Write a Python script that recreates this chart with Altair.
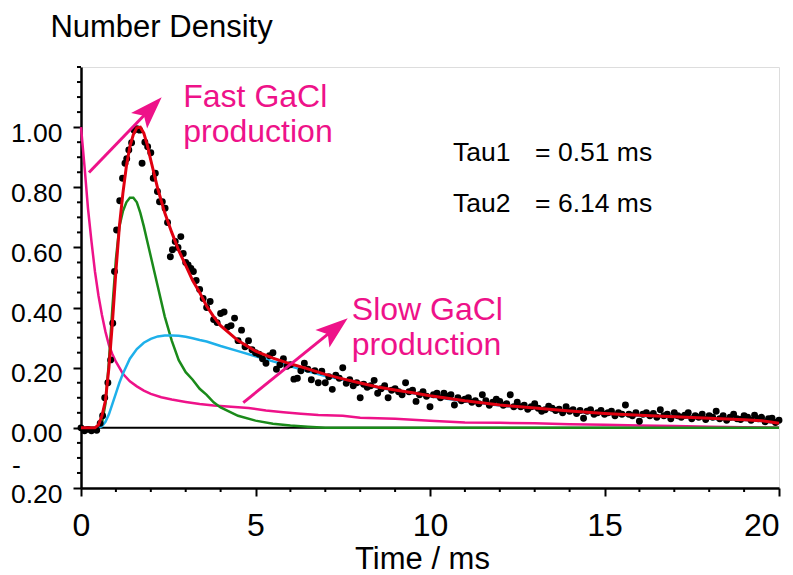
import altair as alt
import pandas as pd

FONT = "Liberation Sans"
PINK = "#ee1289"
RED = "#e00010"
GREEN = "#1a8a1a"
CYAN = "#1eb0ea"

# ---------------- data ----------------
# measured number density (dots)
dot_t = [0.0, 0.1, 0.2, 0.3, 0.45, 0.55, 0.62, 0.68, 0.77, 0.85, 0.91, 0.96, 1.02, 1.11, 1.19,
         1.26, 1.31, 1.37, 1.45, 1.52, 1.60, 1.68, 1.75, 1.83, 1.91, 2.00, 2.07, 2.13, 2.19, 2.25,
         2.33, 2.41, 2.48, 2.56, 2.62, 2.70, 2.78, 2.86, 2.93, 3.00, 3.07, 3.15, 3.22, 3.30,
         3.4, 3.5, 3.6, 3.7, 3.8, 3.9, 4.0, 4.1, 4.2, 4.3, 4.4, 4.5, 4.6, 4.7, 4.8, 4.9,
         5.0, 5.1, 5.2, 5.3, 5.4, 5.5, 5.6, 5.7, 5.8, 5.9, 6.0, 6.1, 6.2, 6.3, 6.4, 6.5, 6.6, 6.7, 6.8, 6.9,
         7.0, 7.1, 7.2, 7.3, 7.4, 7.5, 7.6, 7.7, 7.8, 7.9, 8.0, 8.1, 8.2, 8.3, 8.4, 8.5, 8.6, 8.7, 8.8, 8.9,
         9.0, 9.1, 9.2, 9.3, 9.4, 9.5, 9.6, 9.7, 9.8, 9.9, 10.0, 10.1, 10.2, 10.3, 10.4, 10.5, 10.6, 10.7, 10.8, 10.9,
         11.0, 11.1, 11.2, 11.3, 11.4, 11.5, 11.6, 11.7, 11.8, 11.9, 12.0, 12.1, 12.2, 12.3, 12.4, 12.5, 12.6, 12.7, 12.8, 12.9,
         13.0, 13.1, 13.2, 13.3, 13.4, 13.5, 13.6, 13.7, 13.8, 13.9, 14.0, 14.1, 14.2, 14.3, 14.4, 14.5, 14.6, 14.7, 14.8, 14.9,
         15.0, 15.1, 15.2, 15.3, 15.4, 15.5, 15.6, 15.7, 15.8, 15.9, 16.0, 16.1, 16.2, 16.3, 16.4, 16.5, 16.6, 16.7, 16.8, 16.9,
         17.0, 17.1, 17.2, 17.3, 17.4, 17.5, 17.6, 17.7, 17.8, 17.9, 18.0, 18.1, 18.2, 18.3, 18.4, 18.5, 18.6, 18.7, 18.8, 18.9,
         19.0, 19.1, 19.2, 19.3, 19.4, 19.5, 19.6, 19.7, 19.8, 19.9, 20.0]
dot_y = [0.0, -0.01, -0.005, -0.01, -0.008, 0.015, 0.04, 0.10, 0.15, 0.226, 0.348, 0.52, 0.658, 0.755, 0.83,
         0.88, 0.895, 0.924, 0.948, 0.99, 0.995, 0.99, 0.88, 0.95, 0.935, 0.915, 0.83, 0.847, 0.786, 0.752,
         0.752, 0.73, 0.683, 0.569, 0.592, 0.62, 0.60, 0.636, 0.58, 0.55, 0.542, 0.53, 0.52, 0.49,
         0.46, 0.43, 0.40, 0.42, 0.36, 0.35, 0.38, 0.385, 0.335, 0.34, 0.365, 0.29, 0.325, 0.27, 0.29, 0.26,
         0.25, 0.245, 0.23, 0.215, 0.24, 0.25, 0.195, 0.21, 0.23, 0.205, 0.21, 0.162, 0.165, 0.19, 0.215, 0.195, 0.16, 0.19, 0.15, 0.188,
         0.15, 0.17, 0.128, 0.175, 0.165, 0.20, 0.148, 0.16, 0.14, 0.15, 0.10, 0.145, 0.135, 0.14, 0.158, 0.115, 0.13, 0.14, 0.10, 0.125,
         0.13, 0.12, 0.11, 0.15, 0.12, 0.125, 0.088, 0.11, 0.12, 0.105, 0.07, 0.11, 0.115, 0.10, 0.115, 0.105, 0.11, 0.076, 0.10, 0.09,
         0.095, 0.10, 0.085, 0.09, 0.08, 0.11, 0.09, 0.075, 0.085, 0.095, 0.088, 0.075, 0.08, 0.11, 0.07, 0.085, 0.07, 0.075, 0.062, 0.07,
         0.08, 0.065, 0.055, 0.06, 0.072, 0.065, 0.058, 0.062, 0.05, 0.07, 0.055, 0.06, 0.048, 0.058, 0.032, 0.055, 0.06, 0.045, 0.05, 0.058,
         0.045, 0.05, 0.055, 0.04, 0.05, 0.045, 0.076, 0.045, 0.04, 0.05, 0.022, 0.045, 0.05, 0.04, 0.048, 0.035, 0.06, 0.04, 0.045, 0.03,
         0.05, 0.04, 0.035, 0.042, 0.05, 0.03, 0.04, 0.035, 0.045, 0.028, 0.04, 0.035, 0.055, 0.03, 0.04, 0.025, 0.035, 0.045, 0.03, 0.028,
         0.04, 0.035, 0.025, 0.042, 0.03, 0.035, 0.02, 0.03, 0.032, 0.018, 0.025]

# total fit (red)
fit_t = [0, 0.4, 0.5, 0.6, 0.7, 0.8, 0.9, 1.0, 1.1, 1.2, 1.3, 1.4, 1.5, 1.6, 1.7, 1.8, 1.9, 2.0, 2.2, 2.4,
         2.6, 2.8, 3.0, 3.2, 3.4, 3.6, 3.8, 4.0, 4.5, 5.0, 5.5, 6.0, 6.5, 7.0, 7.5, 8.0, 8.5, 9.0, 9.5, 10.0,
         11.0, 12.0, 13.0, 14.0, 15.0, 16.0, 17.0, 18.0, 19.0, 19.5, 20.0]
fit_y = [0, 0, 0.01, 0.04, 0.09, 0.20, 0.35, 0.52, 0.67, 0.78, 0.87, 0.935, 0.975, 0.998, 1.0, 0.98, 0.94, 0.89, 0.795, 0.715,
         0.65, 0.59, 0.54, 0.49, 0.45, 0.405, 0.37, 0.34, 0.29, 0.255, 0.232, 0.213, 0.196, 0.178, 0.163, 0.149, 0.136, 0.126, 0.117, 0.107,
         0.09, 0.076, 0.066, 0.056, 0.048, 0.042, 0.037, 0.032, 0.027, 0.024, 0.015]

# fast component (green)
fast_t = [0, 0.5, 0.6, 0.7, 0.8, 0.9, 1.0, 1.1, 1.2, 1.3, 1.4, 1.5, 1.6, 1.7, 1.8, 1.9, 2.0, 2.2, 2.4, 2.6,
          2.8, 3.0, 3.2, 3.4, 3.6, 3.8, 4.0, 4.5, 5.0, 5.5, 6.0, 6.5, 7.0, 20.0]
fast_y = [0, 0, 0.015, 0.08, 0.22, 0.40, 0.56, 0.67, 0.72, 0.75, 0.765, 0.765, 0.75, 0.715, 0.67, 0.62, 0.57, 0.47, 0.37, 0.29,
          0.225, 0.185, 0.16, 0.13, 0.11, 0.085, 0.068, 0.04, 0.024, 0.014, 0.008, 0.004, 0.0, 0.0]

# slow component (cyan)
slow_t = [0, 0.5, 0.6, 0.7, 0.8, 0.9, 1.0, 1.1, 1.2, 1.4, 1.6, 1.8, 2.0, 2.2, 2.4, 2.6, 2.8, 3.0, 3.2, 3.4,
          3.6, 4.0, 4.5, 5.0, 5.5, 6.0, 6.5, 7.0, 7.5, 8.0, 8.5, 9.0, 9.5, 10.0, 11.0, 12.0, 13.0, 14.0, 15.0, 16.0,
          17.0, 18.0, 19.0, 19.5, 20.0]
slow_y = [0, 0, 0.005, 0.02, 0.045, 0.08, 0.115, 0.15, 0.18, 0.23, 0.262, 0.283, 0.296, 0.304, 0.307, 0.307, 0.306, 0.303, 0.298, 0.292,
          0.287, 0.272, 0.255, 0.238, 0.221, 0.205, 0.188, 0.172, 0.16, 0.146, 0.134, 0.124, 0.115, 0.105, 0.088, 0.074, 0.064, 0.054, 0.046, 0.04,
          0.035, 0.03, 0.026, 0.023, 0.014]

# precursor decay (pink)
prec_t = [0, 0.1, 0.2, 0.3, 0.4, 0.5, 0.6, 0.7, 0.8, 0.9, 1.0, 1.2, 1.4, 1.6, 1.8, 2.0, 2.3, 2.6, 3.0, 3.4,
          3.8, 4.3, 4.8, 5.3, 5.8, 6.3, 6.8, 7.5, 8.0, 9.0, 10.0, 11.0, 12.0, 13.0, 14.0, 15.0, 16.0, 17.0, 18.0, 19.0, 20.0]
prec_y = [1.0, 0.87, 0.73, 0.62, 0.52, 0.44, 0.375, 0.32, 0.275, 0.245, 0.22, 0.18, 0.155, 0.138, 0.124, 0.113, 0.102, 0.094, 0.086, 0.079,
          0.074, 0.07, 0.066, 0.058, 0.052, 0.047, 0.043, 0.04, 0.034, 0.03, 0.024, 0.018, 0.017, 0.015, 0.012, 0.01, 0.008, 0.006, 0.004, 0.002, 0.0]

x_major = [0, 5, 10, 15, 20]
x_minor = [1, 2, 3, 4, 6, 7, 8, 9, 11, 12, 13, 14, 16, 17, 18, 19]
y_major = [-0.2, 0.0, 0.2, 0.4, 0.6, 0.8, 1.0]
y_minor = [-0.15, -0.1, -0.05, 0.05, 0.1, 0.15, 0.25, 0.3, 0.35, 0.45, 0.5, 0.55, 0.65, 0.7, 0.75,
           0.85, 0.9, 0.95, 1.05, 1.1, 1.15, 1.2]

# annotations
pink_text = ["Fast GaCl", "production", "Slow GaCl", "production"]
pink_x = [2.93, 2.93, 7.76, 7.76]
pink_y = [1.067, 0.952, 0.359, 0.242]

tau_text = ["Tau1", "= 0.51 ms", "Tau2", "= 6.14 ms"]
tau_x = [10.66, 13.01, 10.66, 13.01]
tau_y = [0.889, 0.889, 0.719, 0.719]

arrow_x = [0.229, 4.650]
arrow_y = [0.849, 0.084]
arrow_x2 = [1.914, 7.19]       # shaft end (under the head)
arrow_y2 = [1.052, 0.3226]
head_x = [2.312, 7.642]
head_y = [1.0994, 0.3645]
head_angle = [44, 51]

# ---------------- chart ----------------
xs = alt.Scale(domain=[0, 20], nice=False, zero=False)
ys = alt.Scale(domain=[-0.2, 1.2], nice=False, zero=False)

x_axis = alt.Axis(values=x_major, format="d", grid=False, labelFlush=False,
                  labelAlign={"expr": "datum.value >= 20 ? 'right' : 'center'"},
                  labelFont=FONT, labelFontSize=32, labelColor="black", labelPadding=14,
                  tickSize=8, tickWidth=2, tickColor="black",
                  domainColor="black", domainWidth=2.5,
                  title="Time / ms", titleFont=FONT, titleFontSize=31, titleFontWeight="normal",
                  titleColor="black", titleBaseline="alphabetic", titleY=80, titleX=341)
y_axis = alt.Axis(values=y_major, grid=False, labelFlush=False,
                  labelExpr="datum.value < -0.1 ? '0.20' : format(datum.value, '.2f')",
                  labelFont=FONT, labelFontSize=26.5, labelColor="black", labelPadding=11,
                  labelBaseline="alphabetic", labelOffset=14,
                  tickSize=8, tickWidth=2, tickColor="black",
                  domainColor="black", domainWidth=2.5, title=None)


def X(f):
    return alt.X(f, type="quantitative", scale=xs, axis=x_axis)


def Y(f):
    return alt.Y(f, type="quantitative", scale=ys, axis=y_axis)


dots_df = pd.DataFrame({"t": dot_t, "v": dot_y})
fit_df = pd.DataFrame({"t": fit_t, "v": fit_y})
fast_df = pd.DataFrame({"t": fast_t, "v": fast_y})
slow_df = pd.DataFrame({"t": slow_t, "v": slow_y})
prec_df = pd.DataFrame({"t": prec_t, "v": prec_y})

zero_line = alt.Chart(pd.DataFrame({"v": [0.0]})).mark_rule(color="black", strokeWidth=2).encode(
    y=Y("v"), x=alt.value(0), x2=alt.value(698))

prec = alt.Chart(prec_df).mark_line(color=PINK, strokeWidth=2.5).encode(x=X("t"), y=Y("v"))
fast = alt.Chart(fast_df).mark_line(color=GREEN, strokeWidth=2.5).encode(x=X("t"), y=Y("v"))
slow = alt.Chart(slow_df).mark_line(color=CYAN, strokeWidth=2.5).encode(x=X("t"), y=Y("v"))
dots = alt.Chart(dots_df).mark_circle(color="black", size=48, opacity=1).encode(x=X("t"), y=Y("v"))
fit = alt.Chart(fit_df).mark_line(color=RED, strokeWidth=3).encode(x=X("t"), y=Y("v"))

xminor = alt.Chart(pd.DataFrame({"m": x_minor})).mark_rule(color="black", strokeWidth=2).encode(
    x=X("m"), y=alt.value(421), y2=alt.value(425))
yminor = alt.Chart(pd.DataFrame({"m": y_minor})).mark_rule(color="black", strokeWidth=2).encode(
    y=Y("m"), x=alt.value(-4), x2=alt.value(0))

dash = alt.Chart(pd.DataFrame({"v": [-0.2], "s": ["-"]})).mark_text(
    font=FONT, fontSize=26.5, color="black", align="left", baseline="alphabetic", dy=-14).encode(
    y=Y("v"), x=alt.value(-69), text="s:N")

arrow_df = pd.DataFrame({"x": arrow_x, "y": arrow_y, "x2": arrow_x2, "y2": arrow_y2})
shafts = alt.Chart(arrow_df).mark_rule(color=PINK, strokeWidth=3).encode(
    x=X("x"), y=Y("y"), x2="x2:Q", y2="y2:Q")
head_df = pd.DataFrame({"x": head_x, "y": head_y, "a": head_angle})
heads = alt.Chart(head_df).mark_point(
    shape="M0,0L0.72,2.1L0,1.65L-0.72,2.1Z", filled=True, fill=PINK, strokeWidth=0,
    size=960, opacity=1).encode(x=X("x"), y=Y("y"), angle=alt.Angle("a:Q", scale=None))

pink_df = pd.DataFrame({"x": pink_x, "y": pink_y, "s": pink_text})
pink_lbl = alt.Chart(pink_df).mark_text(font=FONT, fontSize=32, color=PINK, align="left",
                                         baseline="alphabetic").encode(x=X("x"), y=Y("y"), text="s:N")
tau_df = pd.DataFrame({"x": tau_x, "y": tau_y, "s": tau_text})
tau_lbl = alt.Chart(tau_df).mark_text(font=FONT, fontSize=26.5, color="black", align="left",
                                       baseline="alphabetic").encode(x=X("x"), y=Y("y"), text="s:N")

chart = alt.layer(
    zero_line, prec, fast, slow, dots, fit, xminor, yminor, dash, shafts, heads, pink_lbl, tau_lbl
).properties(
    width=698, height=421,
    title=alt.TitleParams("Number Density", anchor="start", dx=40, dy=32, offset=30, baseline="alphabetic",
                          font=FONT, fontSize=31, fontWeight="normal", color="black"),
    padding={"left": 81, "top": 67, "right": 14, "bottom": 87},
    autosize=alt.AutoSizeParams(type="none"),
).configure_view(stroke="black", strokeWidth=2).configure(background="white")

chart.save("out.html", embed_options={"renderer": "svg", "actions": False})
